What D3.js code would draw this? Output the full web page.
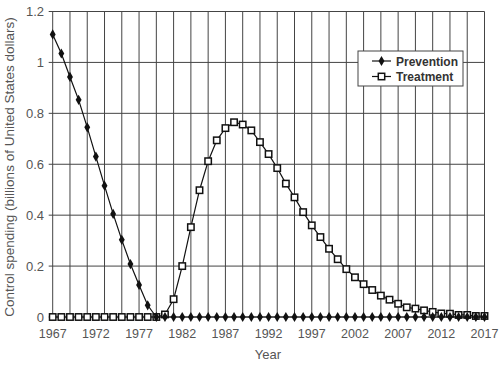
<!DOCTYPE html>
<html>
<head>
<meta charset="utf-8">
<script src="https://cdn.jsdelivr.net/npm/d3@7"></script>
<style>
  body { margin: 0; background: #fff; }
  text { font-family: "Liberation Sans", Arial, sans-serif; }
</style>
</head>
<body>
<div id="chart"></div>
<script>
// years 1967..2017, one value per year
let years = d3.range(1967, 2018)
let yTicks = [0, 0.2, 0.4, 0.6, 0.8, 1, 1.2]
let xLabelYears = [1967, 1972, 1977, 1982, 1987, 1992, 1997, 2002, 2007, 2012, 2017]

let prevention = [1.11, 1.035, 0.943, 0.853, 0.745, 0.63, 0.516, 0.405, 0.303, 0.208, 0.126, 0.046, 0.0]
  .concat(d3.range(1980, 2018).map(() => 0))

let treatment = [0, 0, 0, 0, 0, 0, 0, 0, 0, 0, 0, 0, 0,
  0.01, 0.07, 0.2, 0.353, 0.498, 0.612, 0.694, 0.742, 0.765, 0.756,
  0.733, 0.687, 0.64, 0.585, 0.524, 0.47, 0.412, 0.36, 0.314, 0.268,
  0.227, 0.188, 0.156, 0.129, 0.106, 0.084, 0.068, 0.052, 0.038, 0.033,
  0.026, 0.02, 0.014, 0.013, 0.008, 0.008, 0.004, 0.004]

let width = 500, height = 365
let svg = d3.select('#chart').append('svg').attr('width', width).attr('height', height)

let x = d3.scaleLinear().domain([1967, 2017]).range([52.7, 484.5])
let y = d3.scaleLinear().domain([0, 1.2]).range([317, 11.5])

let grid = svg.append('g')
// vertical gridlines every 2 years
grid.selectAll('line.v').data(d3.range(1967, 2018, 2)).enter()
  .append('line')
  .attr('x1', d => x(d)).attr('x2', d => x(d))
  .attr('y1', y(1.2)).attr('y2', y(0))
  .attr('stroke', '#444').attr('stroke-width', 1)
grid.selectAll('line.h').data(yTicks).enter()
  .append('line')
  .attr('x1', x(1967) - 4).attr('x2', x(2017))
  .attr('y1', d => y(d)).attr('y2', d => y(d))
  .attr('stroke', '#444').attr('stroke-width', 1)

// tick labels
svg.selectAll('text.yt').data(yTicks).enter()
  .append('text')
  .attr('x', 44).attr('y', d => y(d) + 4.5)
  .attr('text-anchor', 'end').attr('font-size', 13).attr('fill', '#555')
  .text(d => d)

svg.selectAll('text.xt').data(xLabelYears).enter()
  .append('text')
  .attr('x', d => x(d)).attr('y', 338)
  .attr('text-anchor', 'middle').attr('font-size', 12.5).attr('fill', '#555')
  .text(d => d)

svg.append('text').attr('x', 268).attr('y', 359)
  .attr('text-anchor', 'middle').attr('font-size', 13).attr('fill', '#555')
  .text('Year')

svg.append('text')
  .attr('transform', 'translate(14,' + 167 + ') rotate(-90)')
  .attr('text-anchor', 'middle').attr('font-size', 13.5).attr('fill', '#555')
  .text('Control spending (billions of United States dollars)')

let line = d3.line().x((d, i) => x(years[i])).y(d => y(d))
let diamond = d3.symbol().type(d3.symbolDiamond).size(30)

// treatment
svg.append('path').datum(treatment).attr('d', line)
  .attr('fill', 'none').attr('stroke', '#111').attr('stroke-width', 1.2)
svg.selectAll('rect.tr').data(treatment).enter()
  .append('rect')
  .attr('x', (d, i) => x(years[i]) - 3.2).attr('y', d => y(d) - 3.2)
  .attr('width', 6.4).attr('height', 6.4)
  .attr('fill', '#fff').attr('stroke', '#111').attr('stroke-width', 1.5)

// prevention
svg.append('path').datum(prevention).attr('d', line)
  .attr('fill', 'none').attr('stroke', '#111').attr('stroke-width', 1.2)
svg.selectAll('path.pv').data(prevention).enter()
  .append('path')
  .attr('d', diamond)
  .attr('transform', (d, i) => 'translate(' + x(years[i]) + ',' + y(d) + ')')
  .attr('fill', '#111')

// legend
let lg = svg.append('g')
lg.append('rect').attr('x', 358).attr('y', 51).attr('width', 105).attr('height', 35)
  .attr('fill', '#fff').attr('stroke', '#444').attr('stroke-width', 1)
let items = [['Prevention', 'diamond'], ['Treatment', 'square']]
items.forEach((it, i) => {
  let yy = 61 + i * 15.5
  lg.append('line').attr('x1', 372).attr('x2', 391).attr('y1', yy).attr('y2', yy)
    .attr('stroke', '#111').attr('stroke-width', 1.2)
  if (it[1] === 'diamond') {
    lg.append('path').attr('d', diamond).attr('transform', 'translate(381.5,' + yy + ')').attr('fill', '#111')
  } else {
    lg.append('rect').attr('x', 378.3).attr('y', yy - 3.2).attr('width', 6.4).attr('height', 6.4)
      .attr('fill', '#fff').attr('stroke', '#111').attr('stroke-width', 1.5)
  }
  lg.append('text').attr('x', 396).attr('y', yy + 4.5)
    .attr('font-size', 12).attr('font-weight', 'bold').attr('fill', '#333')
    .attr('font-family', '"Liberation Sans Narrow", "Liberation Sans", Arial, sans-serif')
    .text(it[0])
})
</script>
</body>
</html>
